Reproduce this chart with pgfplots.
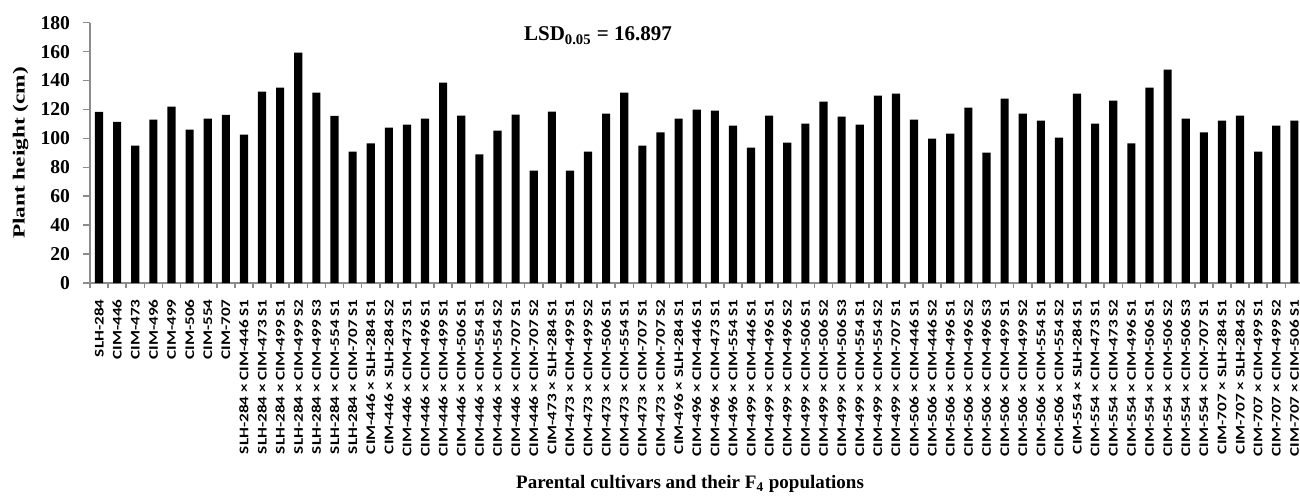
\documentclass[border=0pt]{standalone}
\usepackage{fontspec}
\setmainfont{Liberation Serif}
\newfontfamily\labfont[FakeStretch=1.3]{Carlito}
\newfontfamily\ylabfont[FakeStretch=1.37]{Liberation Serif}
\usepackage{pgfplots}
\pgfplotsset{compat=1.18}
\definecolor{axgray}{RGB}{140,140,140}
\begin{document}
\begin{tikzpicture}
\begin{axis}[
  scale only axis,
  width=604.9pt, height=130.2pt,
  xmin=-0.5, xmax=66.3,
  ymin=0, ymax=180,
  ytick={0,20,...,180},
  /pgf/number format/assume math mode=true,
  axis lines=left,
  axis line style={-, draw=axgray, line width=0.8pt},
  tick style={draw=axgray, line width=0.8pt},
  tick align=outside,
  ytick pos=left, xtick pos=bottom,
  major tick length=3.5pt,
  minor tick length=2.5pt,
  xtick={0,...,66},
  x tick style={draw=none},
  minor xtick={-0.5,0.5,...,65.5},
  minor x tick style={draw=axgray, line width=0.8pt},
  xticklabels={SLH-284,CIM-446,CIM-473,CIM-496,CIM-499,CIM-506,CIM-554,CIM-707,
SLH-284 × CIM-446 S1,SLH-284 × CIM-473 S1,SLH-284 × CIM-499 S1,SLH-284 × CIM-499 S2,SLH-284 × CIM-499 S3,SLH-284 × CIM-554 S1,SLH-284 × CIM-707 S1,
CIM-446 × SLH-284 S1,CIM-446 × SLH-284 S2,CIM-446 × CIM-473 S1,CIM-446 × CIM-496 S1,CIM-446 × CIM-499 S1,CIM-446 × CIM-506 S1,CIM-446 × CIM-554 S1,CIM-446 × CIM-554 S2,CIM-446 × CIM-707 S1,CIM-446 × CIM-707 S2,
CIM-473 × SLH-284 S1,CIM-473 × CIM-499 S1,CIM-473 × CIM-499 S2,CIM-473 × CIM-506 S1,CIM-473 × CIM-554 S1,CIM-473 × CIM-707 S1,CIM-473 × CIM-707 S2,
CIM-496 × SLH-284 S1,CIM-496 × CIM-446 S1,CIM-496 × CIM-473 S1,CIM-496 × CIM-554 S1,
CIM-499 × CIM-446 S1,CIM-499 × CIM-496 S1,CIM-499 × CIM-496 S2,CIM-499 × CIM-506 S1,CIM-499 × CIM-506 S2,CIM-499 × CIM-506 S3,CIM-499 × CIM-554 S1,CIM-499 × CIM-554 S2,CIM-499 × CIM-707 S1,
CIM-506 × CIM-446 S1,CIM-506 × CIM-446 S2,CIM-506 × CIM-496 S1,CIM-506 × CIM-496 S2,CIM-506 × CIM-496 S3,CIM-506 × CIM-499 S1,CIM-506 × CIM-499 S2,CIM-506 × CIM-554 S1,CIM-506 × CIM-554 S2,
CIM-554 × SLH-284 S1,CIM-554 × CIM-473 S1,CIM-554 × CIM-473 S2,CIM-554 × CIM-496 S1,CIM-554 × CIM-506 S1,CIM-554 × CIM-506 S2,CIM-554 × CIM-506 S3,CIM-554 × CIM-707 S1,
CIM-707 × SLH-284 S1,CIM-707 × SLH-284 S2,CIM-707 × CIM-499 S1,CIM-707 × CIM-499 S2,CIM-707 × CIM-506 S1},
  xticklabel style={font=\labfont\bfseries\fontsize{6.6}{7}\selectfont, rotate=90, anchor=east, inner xsep=4.5pt, inner ysep=0pt},
  yticklabel style={font=\bfseries\fontsize{9.8}{11}\selectfont, xshift=-3pt},
  ylabel={Plant height (cm)},
  ylabel style={font=\ylabfont\bfseries\fontsize{8.5}{10}\selectfont, at={(axis description cs:-0.0574,0.5)}, anchor=center},
  xlabel={Parental cultivars and their F\textsubscript{4} populations},
  xlabel style={font=\bfseries\fontsize{9.5}{11}\selectfont, at={(axis description cs:0.496,-0.772)}, anchor=center},
  clip=false,
]
\addplot[ybar, bar width=0.45, fill=black, draw=none] coordinates {
(0,118.3) (1,111.4) (2,95.1) (3,113.0) (4,122.0) (5,106.1) (6,113.7) (7,116.3)
(8,102.7) (9,132.4) (10,135.1) (11,159.3) (12,131.7) (13,115.6) (14,90.9)
(15,96.5) (16,107.5) (17,109.6) (18,113.7) (19,138.6) (20,115.8) (21,88.9) (22,105.4) (23,116.5) (24,77.8)
(25,118.6) (26,77.8) (27,90.9) (28,117.2) (29,131.7) (30,95.1) (31,104.1)
(32,113.7) (33,119.9) (34,119.2) (35,108.9)
(36,93.7) (37,115.8) (38,97.1) (39,110.3) (40,125.5) (41,115.1) (42,109.6) (43,129.6) (44,131.0)
(45,113.0) (46,99.9) (47,103.4) (48,121.3) (49,90.2) (50,127.5) (51,117.2) (52,112.3) (53,100.6)
(54,131.0) (55,110.3) (56,126.1) (57,96.5) (58,135.1) (59,147.6) (60,113.7) (61,104.1)
(62,112.3) (63,115.8) (64,90.9) (65,108.9) (66,112.3)
};
\node[font=\bfseries\fontsize{10.5}{12}\selectfont] at (axis cs:27.55,171) {LSD\textsubscript{0.05} = 16.897};
\end{axis}
\pgfresetboundingbox
\path[use as bounding box] (-45pt,-106.5pt) rectangle (605pt,141.55pt);
\end{tikzpicture}
\end{document}
